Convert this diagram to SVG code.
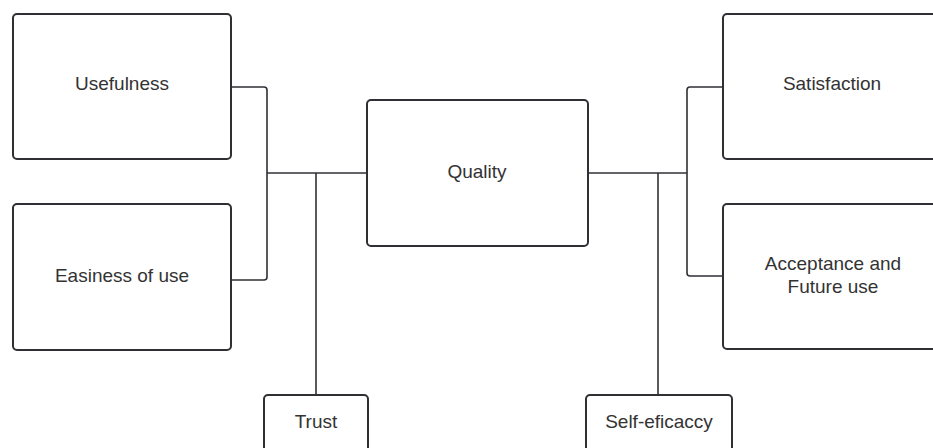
<svg xmlns="http://www.w3.org/2000/svg" width="933" height="448" viewBox="0 0 933 448">
<style>
.box{fill:#ffffff;stroke:#2e3034;stroke-width:2}
.ln{fill:none;stroke:#2e3034;stroke-width:1.6;stroke-linejoin:round}
.t{font-family:"Liberation Sans",Arial,sans-serif;font-size:19px;fill:#333333;text-anchor:middle}
</style>
<rect width="933" height="448" fill="#ffffff"/>
<g id="connectors">
<path class="ln" d="M231,87 H264 Q267,87 267,90 V277 Q267,280 264,280 H231"/>
<path class="ln" d="M267,173 H367"/>
<path class="ln" d="M316,173 V395"/>
<path class="ln" d="M723,87 H690 Q687,87 687,90 V273 Q687,276 690,276 H723"/>
<path class="ln" d="M588,173 H687"/>
<path class="ln" d="M658,173 V395"/>
</g>
<g id="usefulness">
<rect class="box" x="13" y="14" width="218" height="145" rx="4"/>
<text class="t" x="122" y="90">Usefulness</text>
</g>
<g id="easiness">
<rect class="box" x="13" y="204" width="218" height="146" rx="4"/>
<text class="t" x="122" y="282">Easiness of use</text>
</g>
<g id="quality">
<rect class="box" x="367" y="100" width="221" height="146" rx="4"/>
<text class="t" x="477" y="178">Quality</text>
</g>
<g id="satisfaction">
<rect class="box" x="723" y="14" width="218" height="145" rx="4"/>
<text class="t" x="832" y="90">Satisfaction</text>
</g>
<g id="acceptance">
<rect class="box" x="723" y="204" width="218" height="145" rx="4"/>
<text class="t" x="833" y="270">Acceptance and</text>
<text class="t" x="833" y="293">Future use</text>
</g>
<g id="trust">
<rect class="box" x="264" y="395" width="104" height="70" rx="4"/>
<text class="t" x="316" y="428">Trust</text>
</g>
<g id="selfeficaccy">
<rect class="box" x="586" y="395" width="146" height="70" rx="4"/>
<text class="t" x="659" y="428">Self-eficaccy</text>
</g>
</svg>
